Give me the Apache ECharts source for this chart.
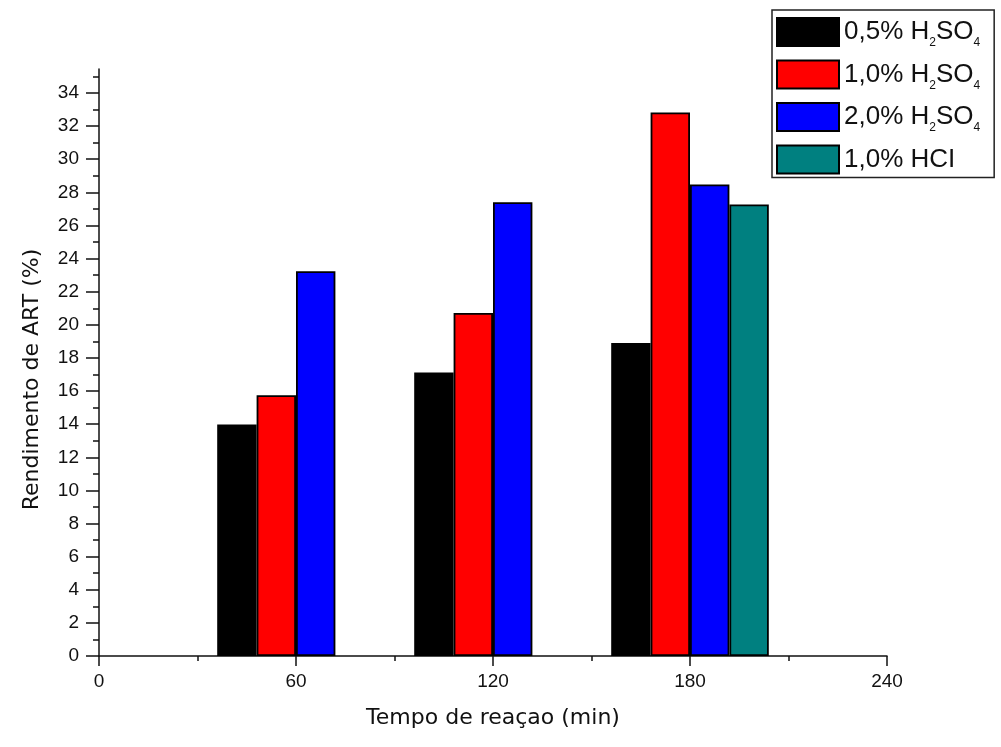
<!DOCTYPE html>
<html>
<head>
<meta charset="utf-8">
<script src="https://cdn.jsdelivr.net/npm/echarts@6/dist/echarts.min.js"></script>
<style>
html,body{margin:0;padding:0;background:#fff;}
#chart{width:1001px;height:747px;}
</style>
</head>
<body>
<div id="chart"></div>
<script>
// ---- data ----
var seriesNames = ['0,5% H2SO4', '1,0% H2SO4', '2,0% H2SO4', '1,0% HCl'];
var times = [60, 120, 180];
var s05H2SO4 = [13.98, 17.12, 18.91];
var s10H2SO4 = [15.75, 20.72, 32.83];
var s20H2SO4 = [23.24, 27.40, 28.48];
var hclTimes = [180];
var s10HCl = [27.27];
var xTicks = [0, 60, 120, 180, 240];
var yTicks = [0, 2, 4, 6, 8, 10, 12, 14, 16, 18, 20, 22, 24, 26, 28, 30, 32, 34];
var yMinorTicks = [1, 3, 5, 7, 9, 11, 13, 15, 17, 19, 21, 23, 25, 27, 29, 31, 33, 35];
var colors = ['#000000', '#ff0000', '#0000ff', '#008080'];

function pairs(xs, ys) { return xs.map(function (x, i) { return [x, ys[i]]; }); }

var chart = echarts.init(document.getElementById('chart'));
var axisColor = '#111';
var YMAX = 35.45;

function barSeries(name, data, color) {
  return {
    type: 'bar', name: name, data: data,
    barWidth: 39.4, barGap: '0%',
    itemStyle: { color: color, borderColor: '#000', borderWidth: 1.8 },
    emphasis: { disabled: true }
  };
}

chart.setOption({
  animation: false,
  backgroundColor: '#fff',
  grid: { left: 99, right: 114, top: 69, bottom: 91, containLabel: false },
  legend: {
    orient: 'vertical', left: 772, top: 10,
    backgroundColor: '#fff', borderColor: '#222', borderWidth: 1.5,
    padding: [5, 14, 1, 4],
    itemWidth: 62, itemHeight: 28, itemGap: 8.5,
    icon: 'rect',
    data: seriesNames,
    formatter: function (name) {
      var m = name.match(/^(.*H)2SO4$/);
      if (m) return '{a|' + m[1] + '}{s|2}{a|SO}{s|4}';
      return '{a|' + name.replace('HCl', 'HCI') + '}';
    },
    textStyle: {
      fontFamily: 'Liberation Sans', fontSize: 26, color: '#111', lineHeight: 34,
      rich: {
        a: { fontFamily: 'Liberation Sans', fontSize: 26, color: '#111', lineHeight: 34 },
        s: { fontFamily: 'Liberation Sans', fontSize: 12, color: '#111', lineHeight: 1, verticalAlign: 'bottom' }
      }
    }
  },
  xAxis: {
    type: 'value', min: 0, max: 240, interval: 60,
    name: 'Tempo de reaçao (min)', nameLocation: 'middle', nameGap: 51,
    nameTextStyle: { fontFamily: 'DejaVu Sans', fontSize: 22, color: '#111' },
    axisLine: { show: true, lineStyle: { color: axisColor, width: 1.5 } },
    axisTick: { show: true, inside: false, length: 10, lineStyle: { color: axisColor, width: 1.5 } },
    minorTick: { show: true, splitNumber: 2, length: 5, lineStyle: { color: axisColor, width: 1.5 } },
    axisLabel: { fontFamily: 'Liberation Sans', fontSize: 19, color: '#111', margin: 16,
      customValues: xTicks },
    splitLine: { show: false }, minorSplitLine: { show: false }
  },
  yAxis: [{
    type: 'value', min: 0, max: YMAX,
    name: 'Rendimento de ART (%)', nameLocation: 'middle', nameGap: 56,
    nameTextStyle: { fontFamily: 'DejaVu Sans', fontSize: 22, color: '#111', padding: [0, 34, 0, 0] },
    axisLine: { show: true, lineStyle: { color: axisColor, width: 1.5 } },
    axisTick: { show: true, inside: false, length: 13, customValues: yTicks, lineStyle: { color: axisColor, width: 1.5 } },
    axisLabel: { fontFamily: 'Liberation Sans', fontSize: 19, color: '#111', margin: 20, customValues: yTicks },
    splitLine: { show: false }
  }, {
    type: 'value', min: 0, max: YMAX, position: 'left',
    axisLine: { show: false },
    axisTick: { show: true, inside: false, length: 6, customValues: yMinorTicks, lineStyle: { color: axisColor, width: 1.5 } },
    axisLabel: { show: false },
    splitLine: { show: false }
  }],
  series: [
    barSeries(seriesNames[0], pairs(times, s05H2SO4), colors[0]),
    barSeries(seriesNames[1], pairs(times, s10H2SO4), colors[1]),
    barSeries(seriesNames[2], pairs(times, s20H2SO4), colors[2]),
    barSeries(seriesNames[3], pairs(hclTimes, s10HCl), colors[3])
  ]
});
</script>
</body>
</html>
